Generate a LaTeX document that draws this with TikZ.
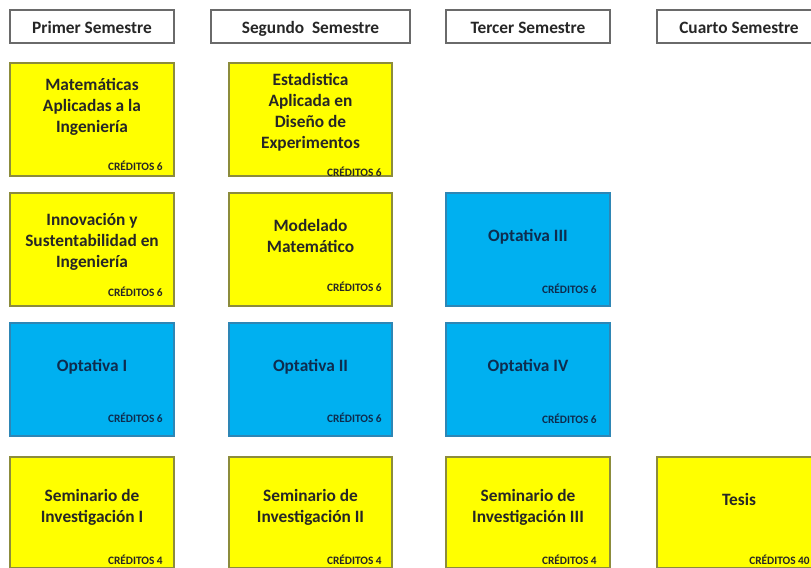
\documentclass[tikz,border=0pt]{standalone}
\usepackage{fontspec}
\setmainfont{Carlito}
\usetikzlibrary{fit}
\definecolor{cyel}{HTML}{FFFF00}
\definecolor{cblue}{HTML}{00B0F0}
\definecolor{cyelb}{HTML}{8C8C3C}
\definecolor{cblueb}{HTML}{2E86B5}
\definecolor{chead}{HTML}{6A6A6A}
\definecolor{ctxt}{HTML}{262626}
\definecolor{cbtxt}{HTML}{0E2C4E}
\tikzset{
  x=0.75pt, y=-0.75pt,
  headbox/.style={draw=chead, line width=1.1pt, fill=white, inner sep=0pt},
  htitle/.style={text=ctxt, inner sep=0pt, text height=9pt, text depth=2.5pt,
    yshift=-2pt, font=\fontsize{13pt}{15.75pt}\selectfont\bfseries},
  ybox/.style={draw=cyelb, line width=0.8pt, fill=cyel, inner sep=0pt},
  bbox/.style={draw=cblueb, line width=0.8pt, fill=cblue, inner sep=0pt},
  ytitle/.style={align=center, text=ctxt, inner sep=0pt,
    font=\fontsize{13pt}{15.75pt}\selectfont\bfseries},
  btitle/.style={ytitle, text=cbtxt},
  ycred/.style={anchor=east, inner sep=0pt, text=ctxt,
    font=\fontsize{8.5pt}{9pt}\selectfont\bfseries},
  bcred/.style={ycred, text=cbtxt},
}
\begin{document}
\begin{tikzpicture}
\useasboundingbox (0,0) rectangle (811,568);
\clip (0,0) rectangle (811,568);
\fill[white] (0,0) rectangle (811,568);
% headers
\node[headbox, fit={(10,10)(174,43)}] (h1) {};
\node[htitle] (h1t) at (h1.center) {Primer Semestre};
\node[headbox, fit={(211,10)(410,43)}] (h2) {};
\node[htitle] (h2t) at (h2.center) {Segundo\ \ Semestre};
\node[headbox, fit={(446,10)(610,43)}] (h3) {};
\node[htitle] (h3t) at (h3.center) {Tercer Semestre};
\node[headbox, fit={(657,10)(821,43)}] (h4) {};
\node[htitle] (h4t) at (h4.center) {Cuarto Semestre};
% row 1
\node[ybox, fit={(10,63)(174,176)}] (a1) {};
\node[ytitle] (a1t) at (92,107) {Matemáticas\\Aplicadas a la\\Ingeniería};
\node[ycred] (a1c) at (163,166) {CRÉDITOS 6};
\node[ybox, fit={(229,63)(392,176)}] (b1) {};
\node[ytitle] (b1t) at (310.5,112.5) {Estadistica\\Aplicada en\\Diseño de\\Experimentos};
\node[ycred] (b1c) at (382,172) {CRÉDITOS 6};
% row 2
\node[ybox, fit={(10,193)(174,306)}] (a2) {};
\node[ytitle] (a2t) at (92,242) {Innovación y\\Sustentabilidad en\\Ingeniería};
\node[ycred] (a2c) at (163,292) {CRÉDITOS 6};
\node[ybox, fit={(229,193)(392,306)}] (b2) {};
\node[ytitle] (b2t) at (310.5,235.5) {Modelado\\Matemático};
\node[ycred] (b2c) at (382,287) {CRÉDITOS 6};
\node[bbox, fit={(446,193)(610,306)}] (c2) {};
\node[btitle] (c2t) at (528,237) {Optativa III};
\node[bcred] (c2c) at (597,289) {CRÉDITOS 6};
% row 3
\node[bbox, fit={(10,323)(174,436)}] (a3) {};
\node[btitle] (a3t) at (92,367) {Optativa I};
\node[bcred] (a3c) at (163,418) {CRÉDITOS 6};
\node[bbox, fit={(229,323)(392,436)}] (b3) {};
\node[btitle] (b3t) at (310.5,367) {Optativa II};
\node[bcred] (b3c) at (382,418) {CRÉDITOS 6};
\node[bbox, fit={(446,323)(610,436)}] (c3) {};
\node[btitle] (c3t) at (528,367) {Optativa IV};
\node[bcred] (c3c) at (597,419) {CRÉDITOS 6};
% row 4
\node[ybox, fit={(10,457)(174,568)}] (a4) {};
\node[ytitle] (a4t) at (92,507) {Seminario de\\Investigación I};
\node[ycred] (a4c) at (163,560) {CRÉDITOS 4};
\node[ybox, fit={(229,457)(392,568)}] (b4) {};
\node[ytitle] (b4t) at (310.5,507) {Seminario de\\Investigación II};
\node[ycred] (b4c) at (382,560) {CRÉDITOS 4};
\node[ybox, fit={(446,457)(610,568)}] (c4) {};
\node[ytitle] (c4t) at (528,507) {Seminario de\\Investigación III};
\node[ycred] (c4c) at (597,560) {CRÉDITOS 4};
\node[ybox, fit={(657,457)(821,568)}] (d4) {};
\node[ytitle] (d4t) at (739,499) {Tesis};
\node[ycred] (d4c) at (810,560) {CRÉDITOS 40};
\end{tikzpicture}
\end{document}
